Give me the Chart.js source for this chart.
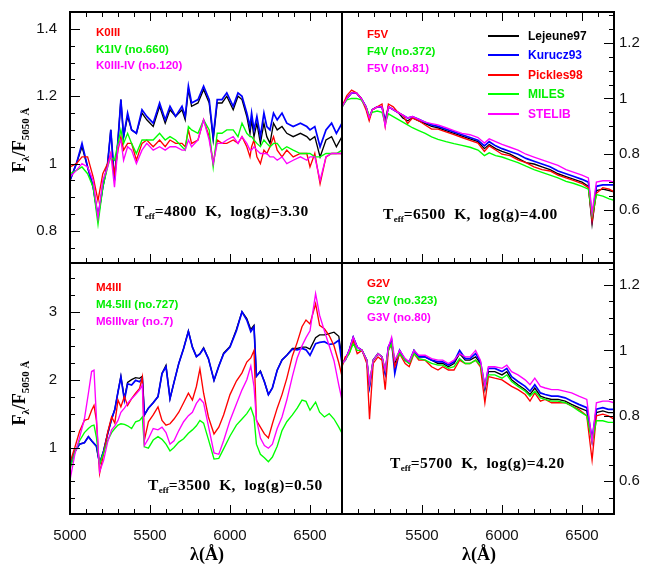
<!DOCTYPE html>
<html lang="en">
<head>
<meta charset="UTF-8">
<title>Library spectra comparison</title>
<script src="https://cdn.jsdelivr.net/npm/chart.js"></script>
<style>
    body { margin: 0; background: #fff; }
    #page { position: relative; width: 651px; height: 564px; overflow: hidden; font-family: 'Liberation Sans', Arial, sans-serif; }
    #page canvas { position: absolute; left: 0; top: 0; }
    .lbl { position: absolute; font-weight: bold; font-size: 11.5px; line-height: 1; white-space: nowrap; }
    .teff { position: absolute; font-family: 'Liberation Serif', serif; font-weight: bold; font-size: 15.5px; letter-spacing: 0.4px; line-height: 1; white-space: nowrap; color: #000; }
    .teff sub { font-size: 9px; letter-spacing: 0; vertical-align: -3px; }
    .ytitle { position: absolute; font-family: 'Liberation Serif', serif; font-weight: bold; font-size: 18px; line-height: 1; white-space: nowrap; transform: translate(-50%, -50%) rotate(-90deg); }
    .ytitle sub { font-size: 11px; vertical-align: -4px; }
    .xtitle { position: absolute; font-family: 'Liberation Serif', serif; font-weight: bold; font-size: 18px; line-height: 1; white-space: nowrap; transform: translate(-50%, -50%); }
    .legline { position: absolute; width: 31px; height: 1.5px; }
    .legtxt { position: absolute; font-weight: bold; font-size: 12px; line-height: 1; white-space: nowrap; }
</style>
</head>
<body>
<div id="page">
    <canvas id="cTL" width="651" height="564"></canvas>
    <canvas id="cTR" width="651" height="564"></canvas>
    <canvas id="cBL" width="651" height="564"></canvas>
    <canvas id="cBR" width="651" height="564"></canvas>

    <div class="ytitle" style="left:20px; top:140px;">F<sub>λ</sub>/F<sub>5050 Å</sub></div>
    <div class="ytitle" style="left:20px; top:393px;">F<sub>λ</sub>/F<sub>5050 Å</sub></div>
    <div class="xtitle" style="left:207px; top:554px;">λ(Å)</div>
    <div class="xtitle" style="left:479px; top:554px;">λ(Å)</div>

    <div class="lbl" style="left:96px; top:27px; color:#ff0000;">K0III</div>
    <div class="lbl" style="left:96px; top:44px; color:#00ee00;">K1IV (no.660)</div>
    <div class="lbl" style="left:96px; top:60px; color:#ff00ff;">K0III-IV (no.120)</div>
    <div class="teff" style="left:134px; top:203px;">T<sub>eff</sub>=4800&nbsp; K,&nbsp; log(g)=3.30</div>

    <div class="lbl" style="left:367px; top:29px; color:#ff0000;">F5V</div>
    <div class="lbl" style="left:367px; top:46px; color:#00ee00;">F4V (no.372)</div>
    <div class="lbl" style="left:367px; top:63px; color:#ff00ff;">F5V (no.81)</div>
    <div class="teff" style="left:383px; top:206px;">T<sub>eff</sub>=6500&nbsp; K,&nbsp; log(g)=4.00</div>

    <div class="legline" style="left:488px; top:35px; background:#000;"></div>
    <div class="legline" style="left:488px; top:54px; background:#0000ff;"></div>
    <div class="legline" style="left:488px; top:74px; background:#ff0000;"></div>
    <div class="legline" style="left:488px; top:93px; background:#00ff00;"></div>
    <div class="legline" style="left:488px; top:113px; background:#ff00ff;"></div>
    <div class="legtxt" style="left:528px; top:30px; color:#000;">Lejeune97</div>
    <div class="legtxt" style="left:528px; top:49px; color:#0000ff;">Kurucz93</div>
    <div class="legtxt" style="left:528px; top:69px; color:#ff0000;">Pickles98</div>
    <div class="legtxt" style="left:528px; top:88px; color:#00ee00;">MILES</div>
    <div class="legtxt" style="left:528px; top:108px; color:#ff00ff;">STELIB</div>

    <div class="lbl" style="left:96px; top:282px; color:#ff0000;">M4III</div>
    <div class="lbl" style="left:96px; top:299px; color:#00ee00;">M4.5III (no.727)</div>
    <div class="lbl" style="left:96px; top:316px; color:#ff00ff;">M6IIIvar (no.7)</div>
    <div class="teff" style="left:148px; top:477px;">T<sub>eff</sub>=3500&nbsp; K,&nbsp; log(g)=0.50</div>

    <div class="lbl" style="left:367px; top:278px; color:#ff0000;">G2V</div>
    <div class="lbl" style="left:367px; top:295px; color:#00ee00;">G2V (no.323)</div>
    <div class="lbl" style="left:367px; top:312px; color:#ff00ff;">G3V (no.80)</div>
    <div class="teff" style="left:390px; top:455px;">T<sub>eff</sub>=5700&nbsp; K,&nbsp; log(g)=4.20</div>
</div>

<script>
    // ---- shared axis ticks ----
    const xMajor = [5000, 5500, 6000, 6500];
    const xMinor = [5100, 5200, 5300, 5400, 5600, 5700, 5800, 5900, 6100, 6200, 6300, 6400, 6600];

    // ---- top left: K giant, Teff=4800 ----
    const lamTL = [5000,5040,5075,5110,5145,5175,5205,5235,5255,5278,5300,5318,5335,5360,5385,5415,5450,5480,5520,5560,
                   5595,5625,5660,5700,5720,5740,5760,5800,5835,5870,5895,5920,5950,5980,6020,6050,6075,6105,6125,6135,
                   6150,6168,6190,6212,6230,6250,6272,6295,6325,6355,6395,6440,6480,6500,6530,6563,6600,6635,6665,6700];
    const lejTL = [0.95,1.00,1.05,0.99,0.93,0.84,0.93,1.00,1.10,0.95, 1.07,1.19,1.08,1.14,1.10,1.09,1.15,1.13,1.11,1.17,
                   1.12,1.16,1.14,1.16,1.13,1.22,1.17,1.18,1.22,1.18, 1.07,1.18,1.18,1.20,1.16,1.20,1.19,1.14,1.09,1.13,
                   1.08,1.12,1.06,1.12,1.08,1.06,1.12,1.10,1.11,1.09, 1.08,1.09,1.08,1.07,1.08,1.02,1.07,1.08,1.05,1.08];
    const kurTL = [0.95,1.00,1.06,0.99,0.93,0.84,0.93,1.00,1.10,0.95, 1.07,1.19,1.08,1.15,1.10,1.09,1.16,1.14,1.12,1.18,
                   1.13,1.17,1.14,1.17,1.14,1.23,1.18,1.19,1.23,1.19, 1.08,1.19,1.19,1.21,1.17,1.21,1.20,1.15,1.11,1.15,
                   1.10,1.14,1.08,1.15,1.11,1.10,1.15,1.13,1.15,1.12, 1.11,1.12,1.11,1.10,1.11,1.05,1.10,1.12,1.09,1.12];
    const pickTL = [0.99,1.00,1.02,1.02,0.96,0.89,0.97,1.00,1.03,0.97, 1.04,1.08,1.04,1.06,1.06,1.01,1.06,1.07,1.05,1.07,
                    1.05,1.07,1.06,1.06,1.05,1.10,1.06,1.07,1.13,1.08, 1.00,1.07,1.06,1.06,1.07,1.06,1.08,1.05,1.02,1.05,
                    1.07,1.02,1.00,1.04,1.03,1.05,1.08,1.04,1.02,1.04, 1.02,1.03,1.03,0.99,1.03,0.94,1.02,1.03,1.03,1.03];
    const milesTL = [0.97,0.98,0.99,0.97,0.93,0.82,0.93,0.99,1.02,1.01, 1.06,1.10,1.06,1.09,1.06,1.03,1.07,1.07,1.07,1.09,
                     1.07,1.08,1.07,1.05,1.04,1.11,1.10,1.09,1.13,1.10, 0.99,1.09,1.09,1.10,1.10,1.08,1.12,1.09,1.08,1.08,
                     1.07,1.06,1.05,1.07,1.06,1.05,1.06,1.06,1.04,1.05, 1.04,1.03,1.03,1.03,1.02,1.02,1.03,1.03,1.03,1.04];
    const stelibTL = [0.96,0.98,1.00,0.99,0.95,0.84,0.95,0.99,1.03,0.93, 1.05,1.07,1.01,1.05,1.04,1.00,1.04,1.06,1.04,1.05,
                      1.04,1.05,1.05,1.04,1.04,1.07,1.05,1.07,1.13,1.07, 1.00,1.06,1.06,1.07,1.08,1.06,1.08,1.06,1.04,1.04,
                      1.05,1.04,1.03,1.03,1.03,1.02,1.02,1.01,1.02,1.00, 1.01,1.02,1.01,1.02,1.02,0.95,1.02,1.03,1.03,1.03];
    const yMajorTL = [0.8, 1, 1.2, 1.4];
    const yMinorTL = [0.75, 0.85, 0.9, 0.95, 1.05, 1.1, 1.15, 1.25, 1.3, 1.35];

    // ---- top right: F dwarf, Teff=6500 ----
    const lamTR = [5000,5030,5060,5090,5120,5150,5170,5190,5220,5250, 5270,5290,5320,5350,5380,5410,5440,5480,5520,5560,
                   5600,5650,5700,5750,5800,5850,5890,5920,5960,6000, 6050,6100,6150,6200,6250,6300,6350,6400,6450,6500,
                   6540,6563,6590,6630,6670,6700];
    const lejTR = [0.97,1.00,1.02,1.02,1.00,0.97,0.93,0.96,0.97,0.97, 0.91,0.97,0.96,0.95,0.93,0.92,0.93,0.92,0.91,0.90,
                   0.895,0.885,0.875,0.865,0.855,0.845,0.82,0.835,0.82,0.81, 0.80,0.785,0.77,0.765,0.755,0.745,0.73,0.72,0.71,0.70,
                   0.685,0.55,0.67,0.675,0.67,0.665];
    const kurTR = [0.97,1.00,1.02,1.02,1.00,0.97,0.93,0.96,0.97,0.97, 0.92,0.97,0.96,0.95,0.94,0.93,0.935,0.925,0.915,0.905,
                   0.90,0.89,0.88,0.87,0.86,0.85,0.83,0.845,0.83,0.82, 0.81,0.80,0.785,0.775,0.765,0.755,0.74,0.73,0.72,0.71,
                   0.70,0.57,0.685,0.69,0.69,0.69];
    const pickTR = [0.97,1.01,1.03,1.02,1.00,0.96,0.92,0.96,0.97,0.98, 0.90,0.98,0.97,0.95,0.94,0.91,0.93,0.92,0.905,0.89,
                    0.89,0.88,0.87,0.86,0.85,0.84,0.81,0.83,0.815,0.80, 0.795,0.78,0.77,0.755,0.745,0.74,0.725,0.715,0.705,0.695,
                    0.68,0.56,0.66,0.68,0.675,0.665];
    const milesTR = [0.97,0.995,1.00,1.00,0.995,0.97,0.94,0.95,0.955,0.95, 0.91,0.945,0.935,0.925,0.915,0.905,0.895,0.885,0.875,0.862,
                     0.853,0.845,0.838,0.832,0.825,0.815,0.795,0.805,0.795,0.79, 0.78,0.77,0.757,0.745,0.735,0.725,0.715,0.703,0.695,0.685,
                     0.675,0.58,0.655,0.65,0.64,0.635];
    const stelibTR = [0.97,1.00,1.02,1.02,1.00,0.97,0.93,0.96,0.97,0.97, 0.90,0.97,0.96,0.95,0.94,0.93,0.935,0.925,0.915,0.91,
                      0.905,0.895,0.885,0.875,0.87,0.86,0.84,0.855,0.845,0.835, 0.825,0.815,0.80,0.79,0.78,0.77,0.76,0.745,0.735,0.725,
                      0.715,0.59,0.70,0.705,0.705,0.70];
    const yMajorTR = [0.6, 0.8, 1, 1.2];
    const yMinorTR = [0.45, 0.5, 0.55, 0.65, 0.7, 0.75, 0.85, 0.9, 0.95, 1.05, 1.1, 1.15, 1.25, 1.3];

    // ---- bottom left: M giant, Teff=3500 ----
    const lamBL = [5000,5030,5060,5090,5115,5135,5150,5165,5185,5210, 5235,5260,5280,5300,5318,5340,5360,5385,5410,5435,
                   5452,5465,5490,5520,5550,5575,5600,5625,5650,5680, 5710,5740,5765,5790,5812,5835,5865,5900,5930,5960,
                   6000,6040,6075,6105,6130,6150,6165,6190,6215,6240, 6265,6295,6325,6355,6390,6420,6450,6475,6500,6535,
                   6560,6590,6620,6650,6680,6700];
    const lejBL = [0.72,0.94,1.05,1.07,1.16,1.10,1.06,1.02,0.76,0.95, 1.20,1.42,1.56,1.82,2.05,1.72,1.96,2.00,2.03,2.02,
                   2.05,1.48,1.58,1.66,1.75,2.09,2.21,1.72,1.96,2.24, 2.46,2.72,2.48,2.34,2.38,2.47,2.31,1.99,2.20,2.39,
                   2.49,2.74,3.00,2.90,2.74,2.80,2.05,2.13,1.97,1.78, 1.88,2.14,2.29,2.36,2.46,2.46,2.48,2.48,2.45,2.62,
                   2.66,2.66,2.68,2.70,2.64,2.30];
    const kurBL = [0.72,0.94,1.05,1.07,1.16,1.10,1.06,1.02,0.76,0.95, 1.20,1.42,1.56,1.82,2.04,1.70,1.94,1.92,1.99,1.97,
                   2.02,1.48,1.58,1.66,1.75,2.09,2.19,1.72,1.96,2.24, 2.46,2.71,2.48,2.34,2.38,2.46,2.31,1.99,2.20,2.38,
                   2.48,2.72,3.00,2.88,2.71,2.78,2.05,2.12,1.97,1.78, 1.88,2.14,2.29,2.36,2.45,2.44,2.46,2.44,2.36,2.53,
                   2.55,2.56,2.52,2.53,2.58,2.24];
    const pickBL = [0.78,1.00,1.24,1.40,1.42,1.55,1.62,1.40,0.62,0.91, 1.22,1.45,1.36,1.70,1.60,1.75,1.62,1.72,1.80,1.87,
                    2.04,1.11,1.38,1.48,1.60,1.40,1.33,1.35,1.42,1.52, 1.66,1.80,1.70,1.90,2.16,1.80,1.45,1.20,1.30,1.48,
                    1.78,1.98,2.10,2.26,2.32,2.43,1.40,1.30,1.20,1.14, 1.35,1.58,1.78,2.02,2.35,2.55,2.78,2.88,2.82,3.12,
                    2.80,2.75,2.65,2.50,2.25,2.05];
    const milesBL = [0.68,0.93,1.10,1.22,1.28,1.32,1.33,1.15,0.76,0.92, 1.10,1.22,1.28,1.33,1.35,1.34,1.32,1.28,1.38,1.40,
                     1.45,1.01,0.99,1.11,1.16,1.12,1.05,0.95,1.00,1.08, 1.13,1.21,1.26,1.32,1.40,1.36,1.12,0.83,0.84,0.98,
                     1.17,1.33,1.42,1.50,1.59,1.45,1.05,0.90,0.85,0.79, 0.86,1.02,1.25,1.38,1.48,1.58,1.70,1.68,1.55,1.67,
                     1.52,1.45,1.50,1.42,1.30,1.21];
    const stelibBL = [0.52,0.90,1.15,1.42,1.80,2.12,2.14,1.45,0.64,0.81, 1.08,1.26,1.32,1.40,1.52,1.58,1.65,1.72,1.78,1.85,
                      1.92,1.03,1.13,1.28,1.26,1.30,1.22,1.05,1.10,1.25, 1.38,1.47,1.52,1.65,1.72,1.66,1.32,0.92,0.90,1.10,
                      1.40,1.64,1.85,2.00,2.20,1.90,1.42,1.14,1.03,0.99, 1.05,1.28,1.45,1.70,2.05,2.32,2.50,2.62,2.72,3.27,
                      2.95,2.72,2.50,2.28,1.92,1.70];
    const yMajorBL = [1, 2, 3];
    const yMinorBL = [0.25, 0.5, 0.75, 1.25, 1.5, 1.75, 2.25, 2.5, 2.75, 3.25, 3.5];

    // ---- bottom right: G dwarf, Teff=5700 ----
    const lamBR = [5000,5020,5045,5070,5095,5125,5155,5172,5195,5225, 5250,5270,5290,5310,5330,5360,5395,5420,5450,5480,
                   5520,5560,5600,5630,5665,5700,5735,5770,5800,5835, 5865,5893,5915,5955,6000,6030,6060,6100,6145,6175,
                   6205,6240,6270,6310,6350,6395,6435,6480,6530,6563, 6590,6630,6665,6700];
    const lejBR = [0.96,0.97,1.00,1.04,1.01,1.00,0.97,0.89,0.97,0.99, 0.98,0.93,1.01,1.03,0.96,1.00,0.97,0.96,1.00,0.98,
                   0.98,0.97,0.96,0.96,0.95,0.96,0.99,0.97,0.97,0.98, 0.96,0.88,0.935,0.935,0.925,0.935,0.91,0.895,0.88,0.865,
                   0.885,0.86,0.855,0.85,0.85,0.845,0.835,0.825,0.815,0.72, 0.81,0.815,0.81,0.81];
    const kurBR = [0.96,0.97,1.00,1.04,1.01,1.00,0.97,0.89,0.97,0.99, 0.98,0.93,1.01,1.03,0.93,1.00,0.97,0.965,1.00,0.98,
                   0.98,0.97,0.965,0.965,0.955,0.965,1.00,0.975,0.975,0.99, 0.965,0.89,0.945,0.945,0.935,0.945,0.92,0.905,0.89,0.875,
                   0.895,0.87,0.865,0.86,0.86,0.855,0.845,0.835,0.825,0.73, 0.82,0.825,0.82,0.82];
    const pickBR = [0.95,0.98,0.99,1.03,0.99,1.00,0.96,0.79,0.96,0.98, 0.97,0.88,1.00,1.02,0.95,0.99,0.96,0.95,0.99,0.97,
                    0.97,0.95,0.94,0.95,0.94,0.94,0.97,0.96,0.96,0.97, 0.95,0.84,0.92,0.915,0.91,0.90,0.89,0.88,0.865,0.845,
                    0.87,0.845,0.85,0.84,0.84,0.84,0.83,0.82,0.80,0.665, 0.80,0.805,0.80,0.79];
    const milesBR = [0.96,0.97,0.99,1.02,1.00,1.00,0.97,0.90,0.97,0.99, 0.98,0.94,1.00,1.02,0.97,0.99,0.97,0.96,0.99,0.975,
                     0.97,0.96,0.955,0.955,0.945,0.95,0.975,0.96,0.96,0.97, 0.955,0.89,0.925,0.925,0.915,0.925,0.905,0.89,0.875,0.86,
                     0.875,0.855,0.85,0.845,0.845,0.84,0.83,0.815,0.80,0.72, 0.785,0.785,0.78,0.78];
    const stelibBR = [0.96,0.97,1.00,1.04,1.01,1.00,0.97,0.90,0.97,0.99, 0.98,0.94,1.01,1.04,0.97,1.00,0.975,0.965,1.00,0.985,
                      0.985,0.975,0.97,0.97,0.96,0.97,0.99,0.98,0.98,1.00, 0.97,0.89,0.95,0.95,0.945,0.955,0.935,0.925,0.91,0.895,
                      0.915,0.89,0.885,0.88,0.88,0.875,0.87,0.86,0.85,0.72, 0.84,0.845,0.845,0.84];
    const yMajorBR = [0.6, 0.8, 1, 1.2];
    const yMinorBR = [0.55, 0.65, 0.7, 0.75, 0.85, 0.9, 0.95, 1.05, 1.1, 1.15, 1.25];

    const libColors = ['#000000', '#0000ff', '#ff0000', '#00ff00', '#ff00ff'];
    const libNames = ['Lejeune97', 'Kurucz93', 'Pickles98', 'MILES', 'STELIB'];
    const W = 651, H = 564;
    const tickFont = { family: "'Liberation Sans', Arial, sans-serif", size: 15 };

    // frame + inward tick marks, placed through the chart's own scales
    const frameTicks = {
        id: 'frameTicks',
        afterDraw(chart, args, o) {
            const { ctx, chartArea: a, scales: { x, y } } = chart;
            ctx.save();
            ctx.strokeStyle = '#000';
            ctx.lineWidth = 1;
            ctx.beginPath();
            const xt = xMajor.map(v => [v, 9]).concat(xMinor.map(v => [v, 5]));
            xt.forEach(([v, len]) => {
                const px = Math.round(x.getPixelForValue(v)) + 0.5;
                if (o.sides.includes('bottom')) { ctx.moveTo(px, a.bottom); ctx.lineTo(px, a.bottom - len); }
                if (o.sides.includes('top')) { ctx.moveTo(px, a.top); ctx.lineTo(px, a.top + len); }
            });
            const yt = o.yMajor.map(v => [v, 10]).concat(o.yMinor.map(v => [v, 5]));
            yt.forEach(([v, len]) => {
                const py = Math.round(y.getPixelForValue(v)) + 0.5;
                if (o.sides.includes('left')) { ctx.moveTo(a.left, py); ctx.lineTo(a.left + len, py); }
                if (o.sides.includes('right')) { ctx.moveTo(a.right, py); ctx.lineTo(a.right - len, py); }
            });
            ctx.stroke();
            ctx.lineWidth = 2;
            ctx.strokeRect(a.left, a.top, a.right - a.left, a.bottom - a.top);
            ctx.restore();
        }
    };

    // no label overflow padding: the panel boxes are fixed
    function noPad(s) { s.paddingTop = 0; s.paddingBottom = 0; s.paddingLeft = 0; s.paddingRight = 0; }

    function makePanel(id, p) {
        const series = [p.lej, p.kur, p.pick, p.miles, p.stelib];
        const datasets = series.map((arr, k) => ({
            label: libNames[k],
            data: p.lam.map((lam, i) => ({ x: lam, y: arr[i] })),
            borderColor: libColors[k],
            borderWidth: k === 1 ? 1.7 : 1.35,
            pointRadius: 0,
            tension: 0,
            order: 5 - k
        }));
        const [l, t, r, b] = p.box;
        const yW = p.ySide === 'left' ? l : W - r;
        const hasX = p.xLabels.length > 0;
        const pad = {
            left: p.ySide === 'left' ? 0 : l,
            right: p.ySide === 'right' ? 0 : W - r,
            top: t,
            bottom: hasX ? 0 : H - b
        };
        new Chart(document.getElementById(id), {
            type: 'line',
            data: { datasets },
            plugins: [frameTicks],
            options: {
                responsive: false,
                animation: false,
                events: [],
                layout: { padding: pad },
                plugins: {
                    legend: { display: false },
                    tooltip: { enabled: false },
                    frameTicks: { sides: p.sides, yMajor: p.yMajor, yMinor: p.yMinor }
                },
                scales: {
                    x: {
                        type: 'linear', min: 5000, max: 6700, position: 'bottom',
                        display: hasX,
                        grid: { display: false, drawTicks: false },
                        border: { display: false },
                        afterFit: s => { s.height = hasX ? H - b : 0; noPad(s); },
                        afterBuildTicks: s => { s.ticks = p.xLabels.map(v => ({ value: v })); },
                        ticks: { autoSkip: false, maxRotation: 0, minRotation: 0, padding: 13, color: '#111', font: tickFont,
                                 callback: v => String(v) }
                    },
                    y: {
                        type: 'linear', min: p.yMin, max: p.yMax, position: p.ySide,
                        grid: { display: false, drawTicks: false },
                        border: { display: false },
                        afterFit: s => { s.width = yW; noPad(s); },
                        afterBuildTicks: s => { s.ticks = p.yMajor.map(v => ({ value: v })); },
                        ticks: { autoSkip: false, padding: p.ySide === 'left' ? 13 : 5, color: '#111', font: tickFont,
                                 callback: v => String(v) }
                    }
                }
            }
        });
    }

    makePanel('cTL', { lam: lamTL, lej: lejTL, kur: kurTL, pick: pickTL, miles: milesTL, stelib: stelibTL,
        box: [70, 12, 342, 263], yMin: 0.705, yMax: 1.45, ySide: 'left', yMajor: yMajorTL, yMinor: yMinorTL,
        xLabels: [], sides: ['left', 'top', 'bottom'] });
    makePanel('cTR', { lam: lamTR, lej: lejTR, kur: kurTR, pick: pickTR, miles: milesTR, stelib: stelibTR,
        box: [342, 12, 614, 263], yMin: 0.41, yMax: 1.31, ySide: 'right', yMajor: yMajorTR, yMinor: yMinorTR,
        xLabels: [], sides: ['right', 'top', 'bottom'] });
    makePanel('cBL', { lam: lamBL, lej: lejBL, kur: kurBL, pick: pickBL, miles: milesBL, stelib: stelibBL,
        box: [70, 263, 342, 514], yMin: 0.02, yMax: 3.72, ySide: 'left', yMajor: yMajorBL, yMinor: yMinorBL,
        xLabels: [5000, 5500, 6000, 6500], sides: ['left', 'bottom'] });
    makePanel('cBR', { lam: lamBR, lej: lejBR, kur: kurBR, pick: pickBR, miles: milesBR, stelib: stelibBR,
        box: [342, 263, 614, 514], yMin: 0.5, yMax: 1.267, ySide: 'right', yMajor: yMajorBR, yMinor: yMinorBR,
        xLabels: [5500, 6000, 6500], sides: ['right', 'bottom'] });
</script>
</body>
</html>
